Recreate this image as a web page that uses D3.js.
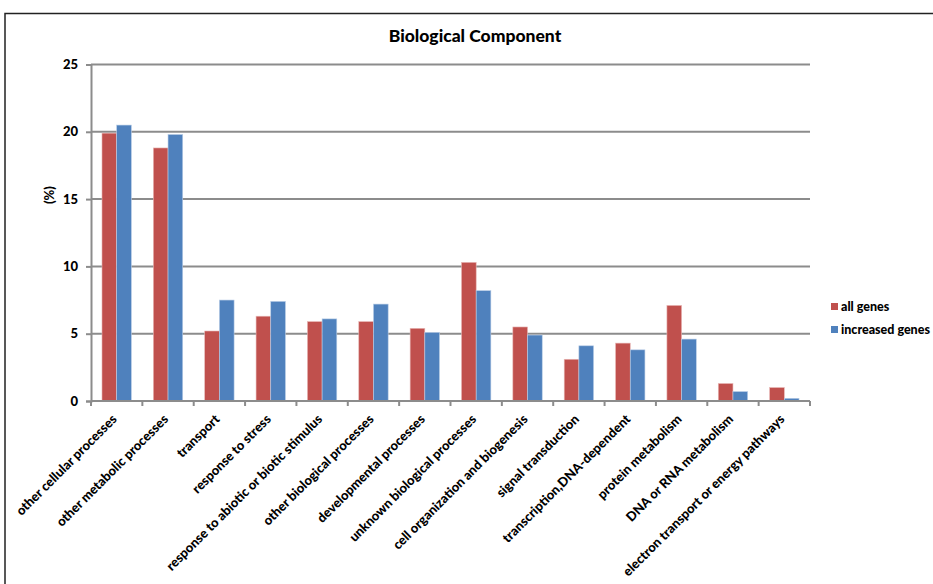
<!DOCTYPE html>
<html>
<head>
<meta charset="utf-8">
<script src="https://cdn.jsdelivr.net/npm/d3@7"></script>
<style>
  html, body { margin: 0; padding: 0; background: #fff; }
  svg { display: block; }
  text { font-family: Lato, "Open Sans", sans-serif; font-weight: 900; fill: #000; }
</style>
</head>
<body>
<svg id="chart" width="933" height="584"></svg>
<script>
// Gene ontology categories (biological process) and their shares in percent
const categories = [
  "other cellular processes",
  "other metabolic processes",
  "transport",
  "response to stress",
  "response to abiotic or biotic stimulus",
  "other biological processes",
  "developmental processes",
  "unknown biological processes",
  "cell organization and biogenesis",
  "signal transduction",
  "transcription,DNA-dependent",
  "protein metabolism",
  "DNA or RNA metabolism",
  "electron transport or energy pathways"
];
const allGenes       = [19.9, 18.8, 5.2, 6.3, 5.9, 5.9, 5.4, 10.3, 5.5, 3.1, 4.3, 7.1, 1.3, 1.0];
const increasedGenes = [20.5, 19.8, 7.5, 7.4, 6.1, 7.2, 5.1, 8.2, 4.9, 4.1, 3.8, 4.6, 0.7, 0.2];
const seriesNames  = ["all genes", "increased genes"];
const seriesColors = ["#C0504D", "#4F81BD"];
const yTicks = [0, 5, 10, 15, 20, 25];

const series = [allGenes, increasedGenes];

const svg = d3.select("#chart");

// Outer chart frame
svg.append("rect")
  .attr("x", 5).attr("y", 13.5)
  .attr("width", 940).attr("height", 600)
  .attr("fill", "none").attr("stroke", "#222").attr("stroke-width", 1.5);

const plot = { left: 91, right: 810, top: 64.5, bottom: 401 };

const x = d3.scaleBand()
  .domain(categories)
  .range([plot.left, plot.right])
  .paddingInner(0)
  .paddingOuter(0);

const y = d3.scaleLinear()
  .domain([0, 25])
  .range([plot.bottom, plot.top]);

const groupFrac = 0.572;
const xInner = d3.scaleBand()
  .domain(d3.range(series.length))
  .range([0, x.bandwidth() * groupFrac]);
const groupOffset = x.bandwidth() * (1 - groupFrac) / 2;

// Horizontal gridlines
svg.append("g")
  .selectAll("line")
  .data(yTicks.filter(t => t > 0))
  .join("line")
  .attr("x1", plot.left).attr("x2", plot.right)
  .attr("y1", d => y(d)).attr("y2", d => y(d))
  .attr("stroke", "#8c8c8c").attr("stroke-width", 2);

// Bars
const groups = svg.append("g")
  .selectAll("g")
  .data(categories)
  .join("g")
  .attr("transform", d => `translate(${x(d) + groupOffset},0)`);

groups.selectAll("rect")
  .data((d, i) => series.map((s, k) => ({ k, v: s[i] })))
  .join("rect")
  .attr("x", d => xInner(d.k))
  .attr("width", xInner.bandwidth())
  .attr("y", d => y(d.v))
  .attr("height", d => y(0) - y(d.v))
  .attr("fill", d => seriesColors[d.k])
  .attr("stroke", d => d.k === 0 ? "#e8b8b6" : "#b9cde6")
  .attr("stroke-width", 0.6);

// Y axis
const yAxis = d3.axisLeft(y).tickValues(yTicks).tickSize(5).tickPadding(8);
const gy = svg.append("g").attr("transform", `translate(${plot.left},0)`).call(yAxis);
gy.select(".domain").attr("stroke", "#8c8c8c").attr("stroke-width", 2);
gy.selectAll(".tick line").attr("stroke", "#8c8c8c").attr("stroke-width", 2);
gy.selectAll(".tick text")
  .style("font-size", "13px")
  .style("font-family", "Lato, sans-serif")
  .style("font-weight", "900")
  .attr("fill", "#000");

// X axis with ticks at category boundaries
const gx = svg.append("g").attr("transform", `translate(0,${plot.bottom})`);
gx.append("line")
  .attr("x1", plot.left).attr("x2", plot.right)
  .attr("stroke", "#8c8c8c").attr("stroke-width", 2);
gx.selectAll("line.tk")
  .data(categories.map(c => x(c)).concat([plot.right]))
  .join("line")
  .attr("class", "tk")
  .attr("x1", d => d).attr("x2", d => d)
  .attr("y1", 0).attr("y2", 5)
  .attr("stroke", "#8c8c8c").attr("stroke-width", 2);

gx.selectAll("text.cat")
  .data(categories)
  .join("text")
  .attr("class", "cat")
  .attr("text-anchor", "end")
  .attr("transform", d => `translate(${x(d) + x.bandwidth() / 2 + 1},${19}) rotate(-45)`)
  .style("font-size", "13px")
  .text(d => d);

// Y axis title
svg.append("text")
  .attr("transform", `translate(54,195) rotate(-90)`)
  .attr("text-anchor", "middle")
  .style("font-size", "13px")
  .text("(%)");

// Chart title
svg.append("text")
  .attr("x", 475).attr("y", 42)
  .attr("text-anchor", "middle")
  .style("font-size", "17.5px")
  .text("Biological Component");

// Legend
const legend = svg.append("g")
  .selectAll("g")
  .data(seriesNames)
  .join("g")
  .attr("transform", (d, i) => `translate(831,${303 + i * 23})`);
legend.append("rect")
  .attr("width", 7).attr("height", 7)
  .attr("fill", (d, i) => seriesColors[i]);
legend.append("text")
  .attr("x", 10).attr("y", 8)
  .style("font-size", "12.5px")
  .text(d => d);
</script>
</body>
</html>
